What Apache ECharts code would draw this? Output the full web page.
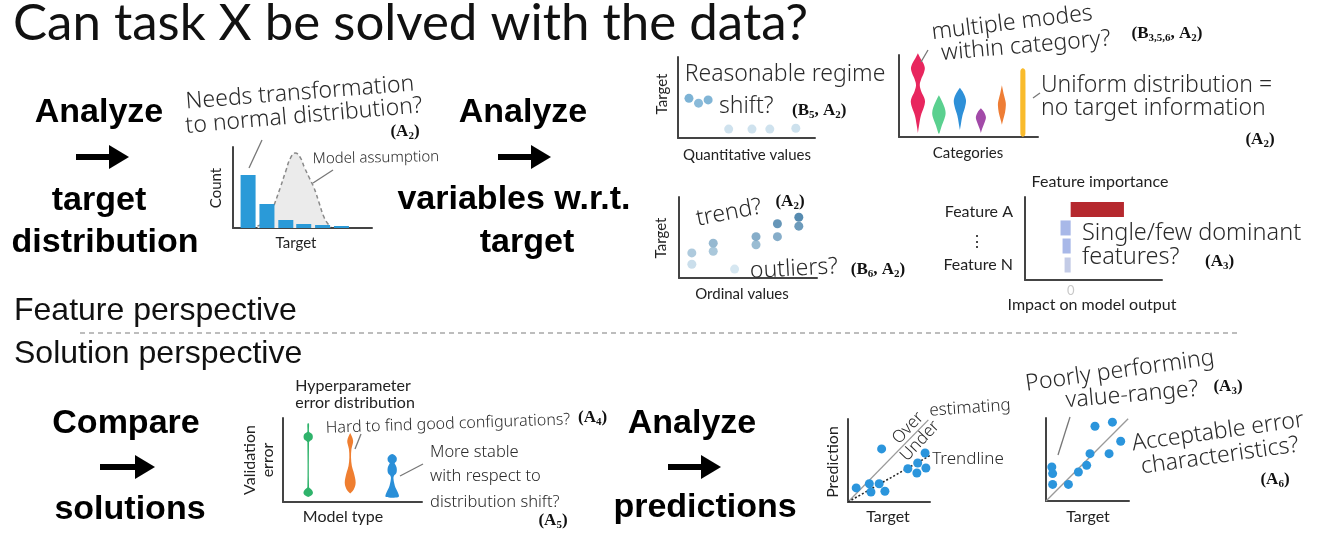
<!DOCTYPE html>
<html>
<head>
<meta charset="utf-8">
<script src="https://cdn.jsdelivr.net/npm/echarts@6/dist/echarts.min.js"></script>
<style>
  html, body { margin: 0; padding: 0; background: #fff; }
  #chart { width: 1319px; height: 533px; }
</style>
</head>
<body>
<div id="chart"></div>
<script>
// ---- data ----
// target histogram (x in bin units, count)
var histX = [0.8, 1.8, 2.8, 3.75, 4.75, 5.75];
var histCount = [53, 24, 8, 4, 3, 2];
// assumed normal distribution (x, density)
var normalCurve = [[1.3, 2], [1.7, 6], [2.0, 14], [2.2, 24], [2.5, 40], [2.8, 57], [3.05, 70], [3.3, 75],
  [3.55, 71], [3.8, 60], [4.05, 50], [4.3, 40], [4.55, 26], [4.8, 12], [5.0, 5], [5.2, 1]];

// quantitative values vs target
var quantPoints = [[0.8, 4.9], [1.5, 4.3], [2.2, 4.7], [3.7, 1.1], [5.4, 1.1], [6.7, 1.1], [8.6, 1.2]];

// categories vs target: violins as [target, half width]
var catX = [1, 2, 3, 4, 5, 6];
var catViolins = [
  [[10.2, 0], [9.6, 0.12], [9, 0.26], [8.4, 0.33], [7.8, 0.28], [7, 0.15], [6.3, 0.09], [5.5, 0.17], [4.8, 0.3], [4.3, 0.34], [3.6, 0.28], [2.6, 0.14], [1.5, 0.06], [0.5, 0]],
  [[5.1, 0], [4.4, 0.14], [3.6, 0.27], [2.9, 0.32], [2.2, 0.26], [1.4, 0.14], [0.5, 0.03], [0.4, 0]],
  [[6.0, 0], [5.4, 0.16], [4.5, 0.29], [3.6, 0.24], [2.6, 0.12], [1.6, 0.05], [0.85, 0]],
  [[3.5, 0], [3.0, 0.16], [2.4, 0.24], [1.8, 0.18], [1.0, 0.06], [0.5, 0]],
  [[6.3, 0], [5.3, 0.08], [4.4, 0.17], [3.9, 0.19], [3.0, 0.15], [2.2, 0.07], [1.5, 0]],
  [[8.4, 0], [8.2, 0.1], [7.8, 0.12], [0.6, 0.12], [0.2, 0.1], [0, 0]]
];

// ordinal values vs target
var ordinalPoints = [[1, 3.1], [1, 1.7], [2, 4.3], [2, 3.3], [3, 1.1], [4, 5.1], [4, 4.1],
  [5, 6.7], [5, 5.1], [6, 7.5], [6, 6.4]];

// feature importance
var featureNames = ['Feature A', '', '', 'Feature N'];
var featureRow = [3.71, 2.74, 1.79, 0.79];
var featureImpact = [1.05, -0.2, -0.16, -0.12];

// hyperparameter error distribution per model type
var modelX = [1, 2, 3];
var modelViolins = [
  [[9.4, 0], [9.3, 0.02], [8.35, 0.02], [8.25, 0.05], [8.1, 0.09], [7.95, 0.105], [7.74, 0.11], [7.5, 0.1], [7.35, 0.07], [7.2, 0.03], [7.1, 0.02],
   [1.8, 0.02], [1.6, 0.05], [1.4, 0.09], [1.2, 0.11], [1.0, 0.11], [0.8, 0.08], [0.6, 0]],
  [[8.2, 0], [7.8, 0.04], [7.3, 0.07], [6.9, 0.06], [6.3, 0.03], [5.3, 0.02], [4.3, 0.04], [3.6, 0.08], [2.9, 0.115], [2.3, 0.13], [1.8, 0.11], [1.3, 0.06], [1.0, 0]],
  [[5.7, 0], [5.55, 0.07], [5.3, 0.105], [5.1, 0.11], [4.85, 0.1], [4.6, 0.06], [4.4, 0.08], [4.1, 0.105], [3.7, 0.11], [3.35, 0.09], [3.1, 0.04], [2.8, 0.03],
   [2.2, 0.05], [1.7, 0.08], [1.2, 0.13], [0.8, 0.16], [0.6, 0.15], [0.5, 0]]
];

// prediction vs target
var predPoints = [[1.0, 1.7], [2.6, 2.2], [2.8, 1.2], [3.8, 2.2], [4.5, 1.3], [4.1, 6.4], [7.3, 4.0], [8.4, 3.5], [8.5, 4.7], [9.5, 4.1], [9.4, 5.9]];
var predIdeal = [[0, 0], [9.8, 9.9]];
var predTrend = [[0, 0], [10, 5.6]];

// residual chart
var errPoints = [[0.7, 4.1], [0.8, 3.3], [0.8, 2.0], [2.7, 2.0], [3.9, 3.5], [4.9, 4.3], [5.3, 5.7], [7.6, 5.7], [5.9, 9.0], [8.0, 9.5], [9.0, 7.2]];
var errIdeal = [[0, 0], [9.9, 9.9]];

// ---- styles ----
var catColors = ['#e8265e', '#5ad08f', '#2e90d8', '#a24aa8', '#ee7d35', '#f9bb2c'];
var modelColors = ['#2fb36b', '#ef7e30', '#2a8fd8'];
var featureColors = ['#b5282e', '#a8b8e8', '#a8b8e8', '#c3cbe6'];
var DOT = '#2b95dc';

var HAND = '"Noto Sans", sans-serif';
var LAB = 'Lato, sans-serif';
var BOLD = 'bold 34px "Liberation Sans", Arial, sans-serif';

function axis(min, max, extra) {
  var a = {
    type: 'value', min: min, max: max,
    axisLine: { show: true, onZero: false, lineStyle: { color: '#444', width: 2 } },
    axisTick: { show: false }, axisLabel: { show: false }, splitLine: { show: false }
  };
  for (var k in extra) a[k] = extra[k];
  return a;
}

var grids = [
  { left: 233, top: 147, width: 139, height: 81 },   // 0 histogram
  { left: 678, top: 57, width: 137, height: 81 },    // 1 quantitative
  { left: 899, top: 55, width: 139, height: 82 },    // 2 categories
  { left: 679, top: 197, width: 138, height: 81 },   // 3 ordinal
  { left: 1025, top: 197, width: 137, height: 83 },  // 4 feature importance
  { left: 283, top: 418, width: 139, height: 84 },   // 5 model type
  { left: 848, top: 419, width: 82, height: 83 },    // 6 prediction
  { left: 1046, top: 418, width: 83, height: 83 }    // 7 residuals
];
var xRanges = [[0, 7.37], [0, 10], [0.1, 6.72], [0.4, 6.85], [-0.9, 1.8], [0.4, 3.71], [0, 10], [0, 10]];
var yRanges = [[0, 81], [0, 10], [0, 10], [0, 10], [0, 4.37], [0, 10], [0, 10], [0, 10]];

var xAxes = xRanges.map(function (r, i) {
  var extra = { gridIndex: i };
  if (i === 4) {
    extra.interval = 0.9;
    extra.axisLabel = {
      show: true, color: '#c8c8c8', fontFamily: LAB, fontSize: 13, margin: 4,
      formatter: function (v) { return Math.abs(v) < 1e-6 ? '0' : ''; }
    };
  }
  return axis(r[0], r[1], extra);
});
var yAxes = yRanges.map(function (r, i) { return axis(r[0], r[1], { gridIndex: i }); });

function violin(profiles, xs, colors) {
  return function (params, api) {
    var i = params.dataIndex, prof = profiles[i], x = xs[i];
    var right = prof.map(function (p) { return api.coord([x + p[1], p[0]]); });
    var left = prof.slice().reverse().map(function (p) { return api.coord([x - p[1], p[0]]); });
    return { type: 'polygon', shape: { points: right.concat(left), smooth: 0.35 }, style: { fill: colors[i] } };
  };
}

var series = [
  { type: 'line', xAxisIndex: 0, yAxisIndex: 0, data: normalCurve, smooth: true, symbol: 'none', z: 1,
    lineStyle: { color: '#8a8a8a', width: 1.5, type: [4, 3] }, areaStyle: { color: '#ebebeb', opacity: 1 } },
  { type: 'bar', xAxisIndex: 0, yAxisIndex: 0, barWidth: 15, z: 2, itemStyle: { color: '#2a9ad8' },
    data: histX.map(function (x, i) { return [x, histCount[i]]; }) },
  { type: 'scatter', xAxisIndex: 1, yAxisIndex: 1, symbolSize: 9, data: quantPoints },
  { type: 'custom', xAxisIndex: 2, yAxisIndex: 2, renderItem: violin(catViolins, catX, catColors),
    data: catX.map(function (x, i) { return [x, i]; }) },
  { type: 'scatter', xAxisIndex: 3, yAxisIndex: 3, symbolSize: 9, data: ordinalPoints },
  { type: 'custom', xAxisIndex: 4, yAxisIndex: 4,
    data: featureImpact.map(function (v, i) { return [v, featureRow[i]]; }),
    renderItem: function (params, api) {
      var p0 = api.coord([0, api.value(1)]), p1 = api.coord([api.value(0), api.value(1)]);
      return { type: 'rect', shape: { x: Math.min(p0[0], p1[0]), y: p0[1] - 7.5, width: Math.abs(p1[0] - p0[0]), height: 15 },
        style: { fill: featureColors[params.dataIndex] } };
    } },
  { type: 'custom', xAxisIndex: 5, yAxisIndex: 5, renderItem: violin(modelViolins, modelX, modelColors),
    data: modelX.map(function (x, i) { return [x, i]; }) },
  { type: 'line', xAxisIndex: 6, yAxisIndex: 6, data: predIdeal, symbol: 'none', lineStyle: { color: '#9a9a9a', width: 1.3 } },
  { type: 'line', xAxisIndex: 6, yAxisIndex: 6, data: predTrend, symbol: 'none', lineStyle: { color: '#222', width: 1.6, type: [2, 2] } },
  { type: 'scatter', xAxisIndex: 6, yAxisIndex: 6, symbolSize: 9, itemStyle: { color: DOT, opacity: 1 }, data: predPoints, z: 3 },
  { type: 'line', xAxisIndex: 7, yAxisIndex: 7, data: errIdeal, symbol: 'none', lineStyle: { color: '#9a9a9a', width: 1.3 } },
  { type: 'scatter', xAxisIndex: 7, yAxisIndex: 7, symbolSize: 9, itemStyle: { color: DOT, opacity: 1 }, data: errPoints, z: 3 }
];

// ---- annotations ----
var REF_RICH = {
  b: { fontFamily: '"Liberation Serif", serif', fontWeight: 'bold', fontSize: 17, fill: '#111', color: '#111' },
  s: { fontFamily: '"Liberation Serif", serif', fontWeight: 'bold', fontSize: 11, fill: '#111', color: '#111', padding: [8, 0, 0, 0] }
};
function T(x, y, text, font, o) {
  o = o || {};
  return {
    type: 'text', x: x, y: y, rotation: (o.rot || 0) * Math.PI / 180, z: 10,
    style: { text: text, font: font, fill: o.color || '#222', align: o.align || 'center', verticalAlign: 'middle' }
  };
}
function R(x, y, text, o) {
  o = o || {};
  return {
    type: 'text', x: x, y: y, z: 10,
    style: { text: text, rich: REF_RICH, align: o.align || 'center', verticalAlign: 'middle' }
  };
}
function H(x, y, text, size, o) {
  o = o || {};
  return T(x, y, text, '300 ' + size + 'px ' + HAND, { rot: o.rot, align: o.align, color: '#2a2a2a' });
}
function L(x, y, text, o) { return T(x, y, text, (o && o.size || 15) + 'px ' + LAB, o); }
function line(x1, y1, x2, y2, c, w) {
  return { type: 'line', z: 9, shape: { x1: x1, y1: y1, x2: x2, y2: y2 }, style: { stroke: c || '#777', lineWidth: w || 1.3 } };
}
function arrow(x1, x2, y) {
  return { type: 'group', children: [
    { type: 'rect', shape: { x: x1, y: y - 3, width: x2 - x1 - 18, height: 6 }, style: { fill: '#000' } },
    { type: 'polygon', shape: { points: [[x2 - 20, y - 12], [x2, y], [x2 - 20, y + 12]] }, style: { fill: '#000' } }
  ] };
}

var graphics = [
  T(13, 24, 'Can task X be solved with the data?', '51px Lato, sans-serif', { align: 'left', color: '#111' }),

  T(99, 113, 'Analyze', BOLD, { color: '#000' }),
  arrow(76, 129, 157),
  T(99, 201, 'target', BOLD, { color: '#000' }),
  T(105, 243, 'distribution', BOLD, { color: '#000' }),

  T(523, 113, 'Analyze', BOLD, { color: '#000' }),
  arrow(498, 551, 157),
  T(514, 200, 'variables w.r.t.', BOLD, { color: '#000' }),
  T(527, 243, 'target', BOLD, { color: '#000' }),

  T(126, 424, 'Compare', BOLD, { color: '#000' }),
  arrow(100, 155, 467),
  T(130, 510, 'solutions', BOLD, { color: '#000' }),

  T(692, 424, 'Analyze', BOLD, { color: '#000' }),
  arrow(668, 721, 467),
  T(705, 508, 'predictions', BOLD, { color: '#000' }),

  T(14, 311, 'Feature perspective', '32px "Liberation Sans", Arial, sans-serif', { align: 'left', color: '#111' }),
  T(14, 354, 'Solution perspective', '32px "Liberation Sans", Arial, sans-serif', { align: 'left', color: '#111' }),
  { type: 'line', z: 1, shape: { x1: 80, y1: 333, x2: 1240, y2: 333 }, style: { stroke: '#a8a8a8', lineWidth: 1.3, lineDash: [5, 4] } },

  // histogram
  L(216, 188, 'Count', { rot: 90 }),
  L(296, 243, 'Target'),
  H(300, 93, 'Needs transformation', 23, { rot: 4.5 }),
  H(304, 116, 'to normal distribution?', 23, { rot: 5 }),
  R(405, 132, '{b|(A}{s|2}{b|)}'),
  H(376, 158, 'Model assumption', 15, { rot: 1 }),
  line(249, 168, 262, 140),
  line(313, 183, 333, 170),

  // quantitative
  L(662, 94, 'Target', { rot: 90 }),
  L(747, 155, 'Quantitative values'),
  H(785, 74, 'Reasonable regime', 23),
  H(719, 106, 'shift?', 23, { align: 'left' }),
  R(792, 111, '{b|(B}{s|5}{b|, A}{s|2}{b|)}', { align: 'left' }),

  // categories
  L(968, 153, 'Categories'),
  H(1012, 23, 'multiple modes', 23, { rot: 7 }),
  H(1026, 46, 'within category?', 23, { rot: 5 }),
  R(1167, 34, '{b|(B}{s|3,5,6}{b|, A}{s|2}{b|)}'),
  line(921, 62, 928, 50),
  H(1041, 85, 'Uniform distribution =', 23, { align: 'left' }),
  H(1041, 108, 'no target information', 23, { align: 'left' }),
  R(1260, 140, '{b|(A}{s|2}{b|)}'),
  line(1033, 98, 1040, 93),

  // ordinal
  L(661, 238, 'Target', { rot: 90 }),
  L(742, 294, 'Ordinal values'),
  H(729, 213, 'trend?', 23, { rot: 11 }),
  R(790, 202, '{b|(A}{s|2}{b|)}'),
  H(794, 269, 'outliers?', 23, { rot: 3 }),
  R(878, 270, '{b|(B}{s|6}{b|, A}{s|2}{b|)}'),

  // feature importance
  L(1100, 182, 'Feature importance', { size: 16 }),
  L(1013, 212, featureNames[0], { size: 16, align: 'right' }),
  L(977, 242, '⋮', { size: 16 }),
  L(1013, 265, featureNames[3], { size: 16, align: 'right' }),
  L(1092, 305, 'Impact on model output', { size: 16 }),
  H(1082, 233, 'Single/few dominant', 23.5, { align: 'left' }),
  H(1082, 257, 'features?', 23.5, { align: 'left' }),
  R(1205, 262, '{b|(A}{s|3}{b|)}', { align: 'left' }),

  // model type
  L(353, 386, 'Hyperparameter', { size: 16 }),
  L(355, 403, 'error distribution', { size: 16 }),
  L(250, 460, 'Validation', { size: 16, rot: 90 }),
  L(268, 460, 'error', { size: 16, rot: 90 }),
  L(343, 517, 'Model type', { size: 16 }),
  H(448, 424, 'Hard to find good configurations?', 16, { rot: 2 }),
  R(578, 418, '{b|(A}{s|4}{b|)}', { align: 'left' }),
  line(355, 449, 361, 434),
  H(430, 452, 'More stable', 16.5, { align: 'left' }),
  H(430, 476, 'with respect to', 16.5, { align: 'left' }),
  H(430, 502, 'distribution shift?', 16.5, { align: 'left' }),
  R(553, 521, '{b|(A}{s|5}{b|)}'),
  line(400, 476, 423, 464),

  // prediction
  L(833, 462, 'Prediction', { size: 16, rot: 90 }),
  L(888, 517, 'Target', { size: 16 }),
  H(908, 428, 'Over', 17, { rot: 47 }),
  H(920, 441, 'Under', 17, { rot: 47 }),
  H(970, 408, 'estimating', 17, { rot: 4 }),
  H(968, 459, 'Trendline', 17),

  // residuals
  L(1088, 517, 'Target', { size: 16 }),
  H(1120, 371, 'Poorly performing', 23, { rot: 8 }),
  H(1132, 395, 'value-range?', 23, { rot: 5 }),
  R(1228, 387, '{b|(A}{s|3}{b|)}'),
  line(1058, 455, 1070, 417),
  H(1218, 432, 'Acceptable error', 23, { rot: 8 }),
  H(1220, 456, 'characteristics?', 23, { rot: 8 }),
  R(1275, 480, '{b|(A}{s|6}{b|)}')
];

var chart = echarts.init(document.getElementById('chart'), null, { renderer: 'canvas' });
chart.setOption({
  animation: false,
  backgroundColor: '#fff',
  grid: grids,
  xAxis: xAxes,
  yAxis: yAxes,
  visualMap: [
    { type: 'continuous', show: false, seriesIndex: 2, dimension: 1, min: 1, max: 5, inRange: { color: ['#c6ddeb', '#5a9ec9'] } },
    { type: 'continuous', show: false, seriesIndex: 4, dimension: 1, min: 1, max: 7.5, inRange: { color: ['#cfe3ef', '#2c6e9c'] } }
  ],
  series: series,
  graphic: graphics
});
</script>
</body>
</html>
